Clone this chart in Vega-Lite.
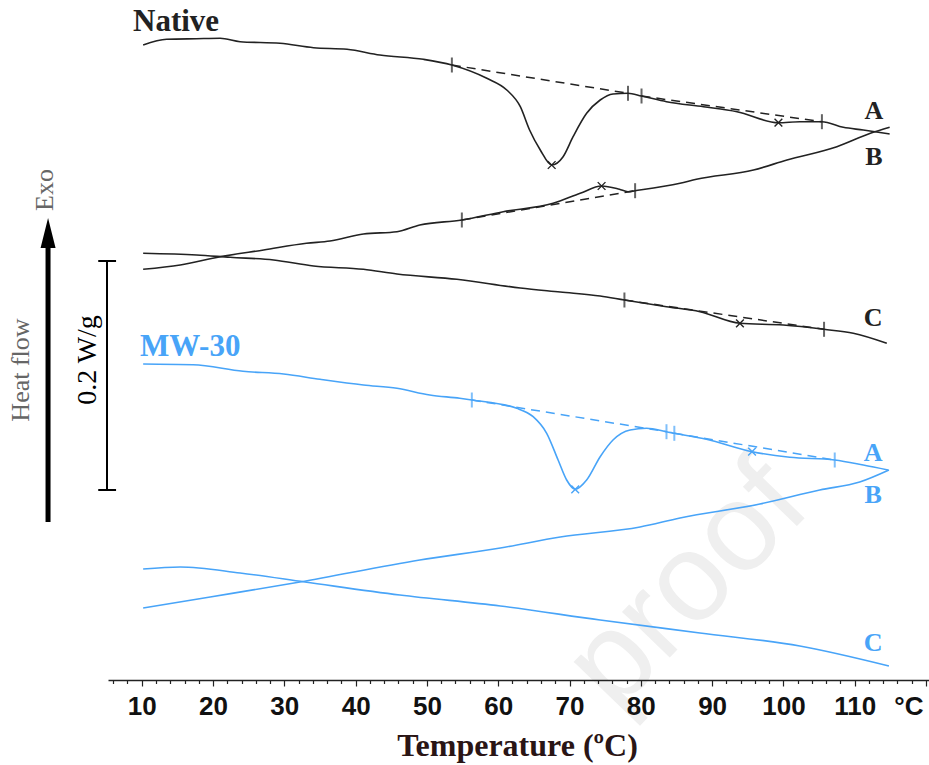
{
  "$schema": "https://vega.github.io/schema/vega-lite/v6.json",
  "autosize": {"type": "none"},
  "padding": {"left": 108, "top": 0, "right": 0, "bottom": 85},
  "width": 821,
  "height": 680,
  "background": "white",
  "config": {"view": {"stroke": null}},
  "datasets": {
    "curves": [
      {"c":"NA","s":"Native","T":10.2,"hf":635},{"c":"NA","s":"Native","T":13.5,"hf":640.7},{"c":"NA","s":"Native","T":17.7,"hf":641.3},{"c":"NA","s":"Native","T":21,"hf":641.7},{"c":"NA","s":"Native","T":23.8,"hf":638.3},{"c":"NA","s":"Native","T":29.4,"hf":636.7},{"c":"NA","s":"Native","T":34.1,"hf":632.3},{"c":"NA","s":"Native","T":38.8,"hf":630.7},{"c":"NA","s":"Native","T":43.4,"hf":625},{"c":"NA","s":"Native","T":49.5,"hf":620.7},{"c":"NA","s":"Native","T":53.5,"hf":615},{"c":"NA","s":"Native","T":58.4,"hf":601.7},{"c":"NA","s":"Native","T":61.2,"hf":590},{"c":"NA","s":"Native","T":63.1,"hf":573.3},{"c":"NA","s":"Native","T":64.4,"hf":550},{"c":"NA","s":"Native","T":65.9,"hf":530},{"c":"NA","s":"Native","T":67.5,"hf":515},{"c":"NA","s":"Native","T":69.1,"hf":523.3},{"c":"NA","s":"Native","T":70.5,"hf":543.3},{"c":"NA","s":"Native","T":72.4,"hf":566.7},{"c":"NA","s":"Native","T":74.3,"hf":580},{"c":"NA","s":"Native","T":76.1,"hf":586},{"c":"NA","s":"Native","T":78.2,"hf":586.7},{"c":"NA","s":"Native","T":80.1,"hf":584},{"c":"NA","s":"Native","T":83.6,"hf":578.3},{"c":"NA","s":"Native","T":88.8,"hf":573.3},{"c":"NA","s":"Native","T":93.5,"hf":568.3},{"c":"NA","s":"Native","T":99.3,"hf":557.3},{"c":"NA","s":"Native","T":102.3,"hf":558.3},{"c":"NA","s":"Native","T":105.4,"hf":558.3},{"c":"NA","s":"Native","T":108.4,"hf":552.7},{"c":"NA","s":"Native","T":111.2,"hf":550},{"c":"NA","s":"Native","T":114.9,"hf":546},
      {"c":"NB","s":"Native","T":10.2,"hf":410.7},{"c":"NB","s":"Native","T":15.4,"hf":415},{"c":"NB","s":"Native","T":21,"hf":423.3},{"c":"NB","s":"Native","T":27.1,"hf":430},{"c":"NB","s":"Native","T":33.1,"hf":436.7},{"c":"NB","s":"Native","T":36.4,"hf":439},{"c":"NB","s":"Native","T":41.1,"hf":446},{"c":"NB","s":"Native","T":45.8,"hf":448.3},{"c":"NB","s":"Native","T":49,"hf":455},{"c":"NB","s":"Native","T":54.9,"hf":460},{"c":"NB","s":"Native","T":60.7,"hf":468.3},{"c":"NB","s":"Native","T":67.7,"hf":476.7},{"c":"NB","s":"Native","T":71.5,"hf":486.7},{"c":"NB","s":"Native","T":74.5,"hf":494},{"c":"NB","s":"Native","T":77,"hf":490.7},{"c":"NB","s":"Native","T":78.2,"hf":488.3},{"c":"NB","s":"Native","T":79.2,"hf":489.3},{"c":"NB","s":"Native","T":85.5,"hf":496.7},{"c":"NB","s":"Native","T":87.8,"hf":500.7},{"c":"NB","s":"Native","T":95.8,"hf":510},{"c":"NB","s":"Native","T":100.5,"hf":520},{"c":"NB","s":"Native","T":107.5,"hf":533.3},{"c":"NB","s":"Native","T":112.2,"hf":546.7},{"c":"NB","s":"Native","T":114.9,"hf":552.7},
      {"c":"NC","s":"Native","T":10.2,"hf":426.7},{"c":"NC","s":"Native","T":17.7,"hf":425},{"c":"NC","s":"Native","T":22.4,"hf":422.7},{"c":"NC","s":"Native","T":28.5,"hf":420},{"c":"NC","s":"Native","T":34.1,"hf":414},{"c":"NC","s":"Native","T":41.1,"hf":410.7},{"c":"NC","s":"Native","T":45.8,"hf":406},{"c":"NC","s":"Native","T":54.2,"hf":400.7},{"c":"NC","s":"Native","T":63.1,"hf":392},{"c":"NC","s":"Native","T":68.7,"hf":388},{"c":"NC","s":"Native","T":74.3,"hf":384},{"c":"NC","s":"Native","T":77.7,"hf":380},{"c":"NC","s":"Native","T":83.6,"hf":373.3},{"c":"NC","s":"Native","T":88.3,"hf":368.3},{"c":"NC","s":"Native","T":93.9,"hf":356.7},{"c":"NC","s":"Native","T":100,"hf":355},{"c":"NC","s":"Native","T":105.7,"hf":350.7},{"c":"NC","s":"Native","T":109.8,"hf":346.7},{"c":"NC","s":"Native","T":114.5,"hf":336.7},
      {"c":"MA","s":"MW-30","T":10.2,"hf":316},{"c":"MA","s":"MW-30","T":17.2,"hf":315.3},{"c":"MA","s":"MW-30","T":24.2,"hf":308.7},{"c":"MA","s":"MW-30","T":29.9,"hf":306},{"c":"MA","s":"MW-30","T":35,"hf":300.7},{"c":"MA","s":"MW-30","T":41.1,"hf":295},{"c":"MA","s":"MW-30","T":45.8,"hf":291.7},{"c":"MA","s":"MW-30","T":50.4,"hf":285},{"c":"MA","s":"MW-30","T":54.6,"hf":281.7},{"c":"MA","s":"MW-30","T":56.3,"hf":280},{"c":"MA","s":"MW-30","T":62.6,"hf":271.7},{"c":"MA","s":"MW-30","T":64.9,"hf":263.3},{"c":"MA","s":"MW-30","T":66.8,"hf":246.7},{"c":"MA","s":"MW-30","T":68.4,"hf":220},{"c":"MA","s":"MW-30","T":69.6,"hf":200},{"c":"MA","s":"MW-30","T":70.8,"hf":190.7},{"c":"MA","s":"MW-30","T":72.4,"hf":200},{"c":"MA","s":"MW-30","T":74.3,"hf":223.3},{"c":"MA","s":"MW-30","T":76.1,"hf":240},{"c":"MA","s":"MW-30","T":78.5,"hf":250},{"c":"MA","s":"MW-30","T":80.8,"hf":251.7},{"c":"MA","s":"MW-30","T":83.6,"hf":248.3},{"c":"MA","s":"MW-30","T":84.7,"hf":246.7},{"c":"MA","s":"MW-30","T":89.2,"hf":240.7},{"c":"MA","s":"MW-30","T":95.6,"hf":228.3},{"c":"MA","s":"MW-30","T":100.9,"hf":222.7},{"c":"MA","s":"MW-30","T":107.2,"hf":220},{"c":"MA","s":"MW-30","T":111.2,"hf":215},{"c":"MA","s":"MW-30","T":114.7,"hf":210},
      {"c":"MB","s":"MW-30","T":10.2,"hf":72},{"c":"MB","s":"MW-30","T":19.6,"hf":83},{"c":"MB","s":"MW-30","T":32.2,"hf":98},{"c":"MB","s":"MW-30","T":49,"hf":120},{"c":"MB","s":"MW-30","T":60.3,"hf":132},{"c":"MB","s":"MW-30","T":68.7,"hf":143},{"c":"MB","s":"MW-30","T":79.9,"hf":153},{"c":"MB","s":"MW-30","T":85.5,"hf":162},{"c":"MB","s":"MW-30","T":96.7,"hf":176},{"c":"MB","s":"MW-30","T":105.1,"hf":190},{"c":"MB","s":"MW-30","T":110.7,"hf":198},{"c":"MB","s":"MW-30","T":114.8,"hf":210},
      {"c":"MC","s":"MW-30","T":10.2,"hf":111},{"c":"MC","s":"MW-30","T":15.4,"hf":113},{"c":"MC","s":"MW-30","T":23.8,"hf":107},{"c":"MC","s":"MW-30","T":32.9,"hf":98},{"c":"MC","s":"MW-30","T":46.2,"hf":85},{"c":"MC","s":"MW-30","T":60.3,"hf":74},{"c":"MC","s":"MW-30","T":74.3,"hf":60},{"c":"MC","s":"MW-30","T":88.3,"hf":47},{"c":"MC","s":"MW-30","T":102.3,"hf":34},{"c":"MC","s":"MW-30","T":114.8,"hf":14}
    ],
    "baselines": [
      {"b":"NA1","s":"Native","T":53.5,"hf":615},{"b":"NA1","s":"Native","T":78.2,"hf":586.7},
      {"b":"NA2","s":"Native","T":80.1,"hf":584},{"b":"NA2","s":"Native","T":105.4,"hf":558.3},
      {"b":"NB","s":"Native","T":54.9,"hf":460},{"b":"NB","s":"Native","T":79.2,"hf":489.3},
      {"b":"NC","s":"Native","T":77.7,"hf":380},{"b":"NC","s":"Native","T":105.7,"hf":350.7},
      {"b":"MA1","s":"MW-30","T":56.3,"hf":280},{"b":"MA1","s":"MW-30","T":83.6,"hf":248.3},
      {"b":"MA2","s":"MW-30","T":84.7,"hf":246.7},{"b":"MA2","s":"MW-30","T":107.2,"hf":220}
    ],
    "limits": [
      {"s":"Native","T":53.5,"hf":615},{"s":"Native","T":78.2,"hf":586.7},{"s":"Native","T":80.1,"hf":584},{"s":"Native","T":105.4,"hf":558.3},
      {"s":"Native","T":54.9,"hf":460},{"s":"Native","T":79.2,"hf":489.3},
      {"s":"Native","T":77.7,"hf":380},{"s":"Native","T":105.7,"hf":350.7},
      {"s":"MW-30","T":56.3,"hf":280},{"s":"MW-30","T":83.6,"hf":248.3},{"s":"MW-30","T":84.7,"hf":246.7},{"s":"MW-30","T":107.2,"hf":220}
    ],
    "peaks": [
      {"s":"Native","T":67.5,"hf":515},{"s":"Native","T":99.3,"hf":557.3},{"s":"Native","T":74.5,"hf":494},{"s":"Native","T":93.9,"hf":356.7},
      {"s":"MW-30","T":70.8,"hf":190.7},{"s":"MW-30","T":95.6,"hf":228.3}
    ],
    "labels": [
      {"s":"Native","t":"A","T":112.7,"hf":569},{"s":"Native","t":"B","T":112.7,"hf":523},{"s":"Native","t":"C","T":112.6,"hf":362},
      {"s":"MW-30","t":"A","T":112.6,"hf":227},{"s":"MW-30","t":"B","T":112.6,"hf":185},{"s":"MW-30","t":"C","T":112.6,"hf":37}
    ],
    "groups": [
      {"s":"Native","t":"Native","T":8.78,"hf":658},
      {"s":"MW-30","t":"MW-30","T":9.76,"hf":333}
    ]
  },
  "encoding": {
    "x": {"field": "T", "type": "quantitative", "title": "Temperature (ºC)",
      "scale": {"domain": [5.27, 120.42], "nice": false, "zero": false},
      "axis": {
        "zindex": 1,
        "values": [6,8,10,12,14,16,18,20,22,24,26,28,30,32,34,36,38,40,42,44,46,48,50,52,54,56,58,60,62,64,66,68,70,72,74,76,78,80,82,84,86,88,90,92,94,96,98,100,102,104,106,108,110,112,114,116,118,120],
        "labelExpr": "(datum.value % 10 === 0 && datum.value <= 110) ? datum.label : ''",
        "grid": false,
        "domainColor": "#222", "domainWidth": 1.5,
        "tickColor": "#222", "tickWidth": 1.2,
        "tickSize": {"condition": {"test": "datum.value % 10 === 0", "value": 6}, "value": 3.5},
        "labelFont": "Liberation Sans", "labelFontWeight": "bold", "labelFontSize": 26,
        "labelColor": "#111", "labelPadding": 7, "labelFlush": false, "labelOverlap": false,
        "titleFont": "Liberation Serif", "titleFontWeight": "bold", "titleFontSize": 32, "titleColor": "#2a1515",
        "titleX": 409, "titleY": 75, "titleBaseline": "alphabetic", "titleAnchor": null, "titleAlign": "center"
      }
    },
    "y": {"field": "hf", "type": "quantitative", "scale": {"domain": [0, 680], "nice": false, "zero": false}, "axis": null}
  },
  "layer": [
    {
      "data": {"values": [{"t": "proof", "T": 86.5, "hf": 95}]},
      "mark": {"type": "text", "angle": -46, "fontSize": 125, "font": "Liberation Sans", "color": "#efefef", "align": "center", "baseline": "middle"},
      "encoding": {"text": {"field": "t"}}
    },
    {
      "data": {"name": "curves"},
      "mark": {"type": "line", "interpolate": "monotone", "strokeWidth": 1.6},
      "encoding": {
        "color": {"field": "s", "type": "nominal", "scale": {"domain": ["Native", "MW-30"], "range": ["#222222", "#48a4f8"]}, "legend": null},
        "detail": {"field": "c"}
      }
    },
    {
      "data": {"name": "baselines"},
      "mark": {"type": "line", "strokeWidth": 1.5, "strokeDash": [9, 6]},
      "encoding": {
        "color": {"field": "s", "type": "nominal", "legend": null},
        "detail": {"field": "b"}
      }
    },
    {
      "data": {"name": "limits"},
      "mark": {"type": "tick", "orient": "vertical", "size": 15, "thickness": 2},
      "encoding": {"color": {"field": "s", "type": "nominal", "legend": null}}
    },
    {
      "data": {"name": "peaks"},
      "mark": {"type": "point", "shape": "M-1,-1L1,1M-1,1L1,-1", "size": 60, "filled": false, "strokeWidth": 1.4, "opacity": 1},
      "encoding": {"color": {"field": "s", "type": "nominal", "legend": null}}
    },
    {
      "data": {"name": "labels"},
      "mark": {"type": "text", "font": "Liberation Serif", "fontWeight": "bold", "fontSize": 26, "align": "center", "baseline": "middle"},
      "encoding": {"text": {"field": "t"}, "color": {"field": "s", "type": "nominal", "legend": null}}
    },
    {
      "data": {"name": "groups"},
      "mark": {"type": "text", "font": "Liberation Serif", "fontWeight": "bold", "fontSize": 31, "align": "left", "baseline": "middle"},
      "encoding": {
        "text": {"field": "t"},
        "color": {"field": "s", "type": "nominal", "scale": {"domain": ["Native", "MW-30"], "range": ["#2a1515", "#48a4f8"]}, "legend": null}
      }
    },
    {
      "data": {"values": [{"T": 5.13, "hf": 190, "hf2": 419}, {"T": -3.14, "hf": 158, "hf2": 433}]},
      "mark": {"type": "rule", "color": "black"},
      "encoding": {"y2": {"field": "hf2"}, "strokeWidth": {"condition": {"test": "datum.T < 0", "value": 5}, "value": 2}}
    },
    {
      "data": {"values": [{"T": 3.9, "T2": 6.4, "hf": 190}, {"T": 3.9, "T2": 6.4, "hf": 419}]},
      "mark": {"type": "rule", "color": "black", "strokeWidth": 2},
      "encoding": {"x2": {"field": "T2"}}
    },
    {
      "data": {"values": [{"T": -3.14, "hf": 447}]},
      "mark": {"type": "point", "shape": "M0,-1L0.5,1L-0.5,1Z", "size": 900, "filled": true, "color": "black", "opacity": 1}
    },
    {
      "data": {"values": [
        {"t": "0.2 W/g", "T": 2.47, "hf": 320, "k": "bar"},
        {"t": "Heat flow", "T": -6.93, "hf": 310, "k": "axis"},
        {"t": "Exo", "T": -3.56, "hf": 490, "k": "axis"}
      ]},
      "mark": {"type": "text", "angle": 270, "font": "Liberation Serif", "align": "center", "baseline": "middle"},
      "encoding": {
        "text": {"field": "t"},
        "color": {"condition": {"test": "datum.k === 'bar'", "value": "black"}, "value": "#666666"},
        "size": {"condition": {"test": "datum.k === 'bar'", "value": 28}, "value": 26}
      }
    },
    {
      "data": {"values": [{"t": "°C", "T": 117.6, "hf": -27}]},
      "mark": {"type": "text", "font": "Liberation Sans", "fontWeight": "bold", "fontSize": 26, "color": "#111", "align": "center", "baseline": "middle"},
      "encoding": {"text": {"field": "t"}}
    }
  ]
}
